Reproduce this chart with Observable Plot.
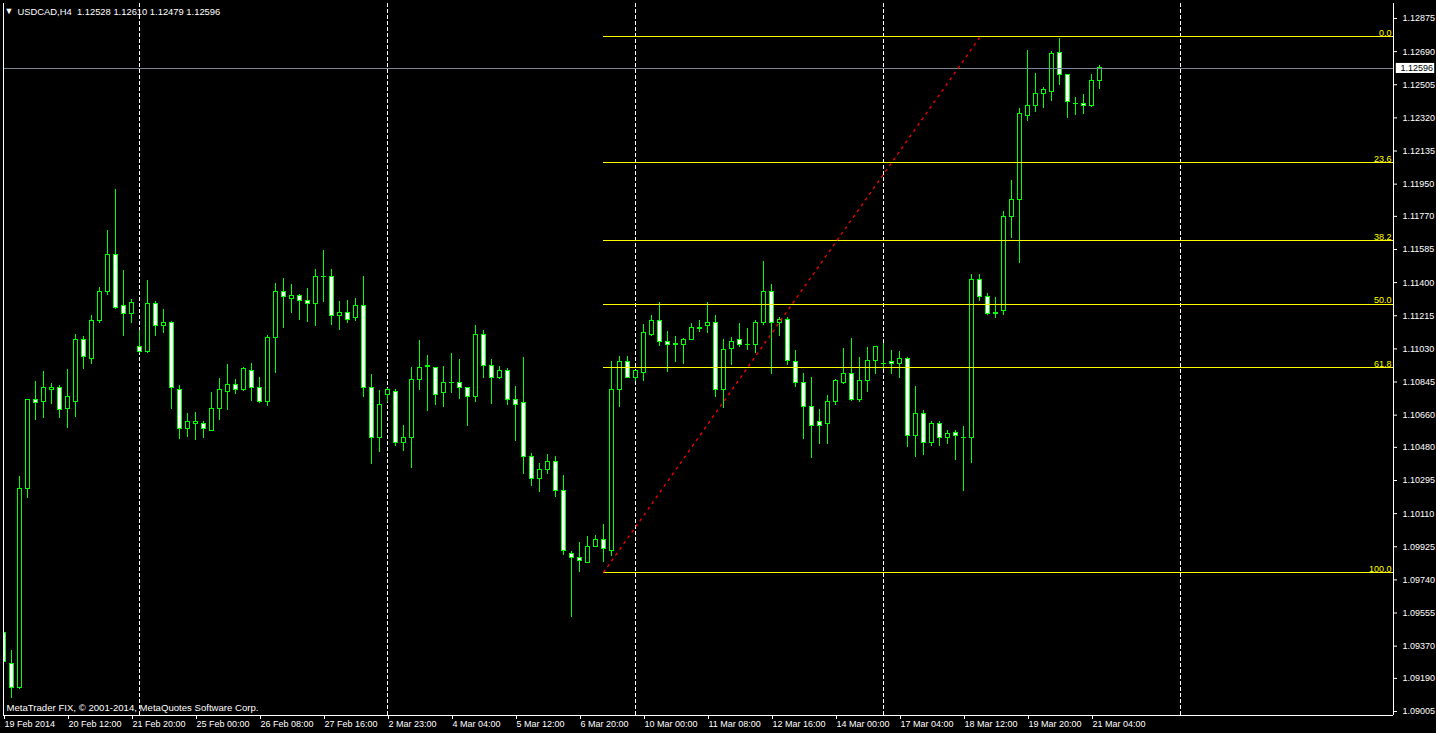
<!DOCTYPE html>
<html><head><meta charset="utf-8">
<script src="https://cdn.jsdelivr.net/npm/d3@7"></script>
<script src="https://cdn.jsdelivr.net/npm/@observablehq/plot@0.6"></script>
<style>html,body{margin:0;padding:0;background:#000;overflow:hidden}#chart svg{display:block}</style>
</head><body><div id="chart"></div>
<script>
// H4 candles, index 0..137 (19 Feb 2014 .. 21 Mar 2014)
const opens = [1.09441,1.09273,1.09139,1.10245,1.10742,1.10731,1.10798,1.10814,1.10692,1.10736,
1.11077,1.10976,1.11188,1.11345,1.11552,1.11272,1.11222,1.11043,1.11010,1.11283,
1.11155,1.11177,1.10803,1.10580,1.10613,1.10613,1.10574,1.10692,1.10792,1.10826,
1.10798,1.10909,1.10814,1.10731,1.11088,1.11345,1.11306,1.11328,1.11300,1.11283,
1.11434,1.11434,1.11211,1.11233,1.11200,1.11272,1.10814,1.10535,1.10770,1.10792,
1.10507,1.10530,1.10859,1.10932,1.10926,1.10781,1.10842,1.10842,1.10814,1.10764,
1.11110,1.10932,1.10870,1.10904,1.10742,1.10725,1.10429,1.10306,1.10351,1.10401,
1.10234,1.09887,1.09865,1.09837,1.09926,1.09965,1.09904,1.10803,1.10954,1.10870,
1.10893,1.11110,1.11188,1.11071,1.11060,1.11054,1.11082,1.11144,1.11155,1.11177,
1.10803,1.11027,1.11077,1.11054,1.11054,1.11172,1.11350,1.11172,1.11194,1.10954,
1.10837,1.10703,1.10619,1.10613,1.10736,1.10842,1.10887,1.10742,1.10853,1.10965,
1.10948,1.10954,1.10943,1.10976,1.10541,1.10669,1.10502,1.10608,1.10535,1.10563,
1.10535,1.10535,1.11412,1.11317,1.11228,1.11239,1.11764,1.11859,1.12333,1.12389,
1.12456,1.12467,1.12680,1.12557,1.12400,1.12400,1.12384,1.12528];
const highs = [1.09446,1.09346,1.10317,1.10747,1.10848,1.10904,1.10837,1.10826,1.10915,1.11110,
1.11099,1.11216,1.11373,1.11691,1.11920,1.11468,1.11306,1.11133,1.11412,1.11295,
1.11250,1.11183,1.10826,1.10669,1.10675,1.10624,1.10786,1.10865,1.10943,1.10859,
1.10926,1.10948,1.10870,1.11105,1.11395,1.11423,1.11390,1.11334,1.11367,1.11473,
1.11579,1.11473,1.11295,1.11300,1.11311,1.11434,1.10887,1.10798,1.10809,1.10803,
1.10602,1.10926,1.11077,1.10993,1.10926,1.10932,1.11004,1.10971,1.10814,1.11161,
1.11133,1.10971,1.10932,1.10920,1.10820,1.10982,1.10446,1.10390,1.10440,1.10429,
1.10323,1.09899,1.09949,1.09982,1.09988,1.10049,1.10960,1.10987,1.10987,1.10909,
1.11166,1.11216,1.11289,1.11127,1.11099,1.11088,1.11172,1.11188,1.11289,1.11216,
1.11082,1.11094,1.11172,1.11144,1.11188,1.11518,1.11390,1.11205,1.11205,1.11021,
1.10893,1.10870,1.10692,1.10770,1.10859,1.11032,1.11088,1.10982,1.11038,1.11040,
1.11060,1.11021,1.11015,1.10982,1.10820,1.10686,1.10624,1.10624,1.10574,1.10574,
1.10597,1.11445,1.11445,1.11339,1.11317,1.11797,1.11970,1.12372,1.12696,1.12568,
1.12490,1.12691,1.12763,1.12560,1.12434,1.12451,1.12562,1.12610];
const lows = [1.09223,1.09078,1.09128,1.10194,1.10630,1.10641,1.10719,1.10641,1.10585,1.10647,
1.10915,1.10943,1.11172,1.11328,1.11250,1.11099,1.11172,1.11004,1.11004,1.11099,
1.11116,1.10692,1.10524,1.10535,1.10518,1.10530,1.10569,1.10630,1.10686,1.10775,
1.10792,1.10736,1.10725,1.10708,1.10893,1.11144,1.11228,1.11188,1.11177,1.11155,
1.11289,1.11161,1.11133,1.11172,1.11183,1.10759,1.10384,1.10451,1.10731,1.10485,
1.10457,1.10362,1.10798,1.10680,1.10714,1.10703,1.10781,1.10747,1.10597,1.10731,
1.10865,1.10719,1.10859,1.10714,1.10513,1.10328,1.10261,1.10228,1.10328,1.10200,
1.09876,1.09530,1.09781,1.09831,1.09921,1.09837,1.09871,1.10703,1.10865,1.10848,
1.10848,1.11099,1.11043,1.10898,1.10954,1.10943,1.11080,1.11122,1.11116,1.10759,
1.10697,1.10937,1.11038,1.11021,1.11004,1.11161,1.10887,1.11099,1.10937,1.10814,
1.10524,1.10418,1.10496,1.10496,1.10714,1.10831,1.10736,1.10731,1.10786,1.10887,
1.10915,1.10887,1.10865,1.10479,1.10423,1.10435,1.10485,1.10485,1.10496,1.10407,
1.10234,1.10390,1.11295,1.11216,1.11200,1.11216,1.11646,1.11507,1.12300,1.12350,
1.12372,1.12411,1.12501,1.12317,1.12333,1.12339,1.12378,1.12479];
const closes = [1.09279,1.09139,1.10245,1.10747,1.10725,1.10809,1.10814,1.10686,1.10759,1.11077,
1.10982,1.11188,1.11350,1.11557,1.11261,1.11222,1.11289,1.11010,1.11283,1.11155,
1.11177,1.10809,1.10585,1.10624,1.10619,1.10580,1.10697,1.10798,1.10826,1.10803,
1.10915,1.10814,1.10731,1.11088,1.11350,1.11317,1.11328,1.11300,1.11283,1.11429,
1.11432,1.11211,1.11233,1.11194,1.11272,1.10814,1.10535,1.10719,1.10803,1.10507,
1.10530,1.10859,1.10926,1.10930,1.10775,1.10837,1.10840,1.10814,1.10764,1.11105,
1.10932,1.10870,1.10904,1.10742,1.10719,1.10429,1.10306,1.10351,1.10401,1.10234,
1.09899,1.09865,1.09843,1.09926,1.09965,1.09910,1.10803,1.10954,1.10870,1.10904,
1.11116,1.11188,1.11071,1.11049,1.11049,1.11082,1.11144,1.11142,1.11177,1.10798,
1.11021,1.11071,1.11049,1.11052,1.11172,1.11350,1.11172,1.11194,1.10960,1.10837,
1.10703,1.10602,1.10602,1.10731,1.10848,1.10887,1.10742,1.10853,1.10965,1.11038,
1.10946,1.10943,1.10976,1.10541,1.10669,1.10502,1.10608,1.10530,1.10557,1.10541,
1.10533,1.11412,1.11317,1.11222,1.11226,1.11769,1.11859,1.12339,1.12389,1.12456,
1.12473,1.12674,1.12557,1.12406,1.12398,1.12384,1.12528,1.12596];

const xTickLabels = ["19 Feb 2014","20 Feb 12:00","21 Feb 20:00","25 Feb 00:00","26 Feb 08:00","27 Feb 16:00",
"2 Mar 23:00","4 Mar 04:00","5 Mar 12:00","6 Mar 20:00","10 Mar 00:00","11 Mar 08:00",
"12 Mar 16:00","14 Mar 00:00","17 Mar 04:00","18 Mar 12:00","19 Mar 20:00","21 Mar 04:00"];
const xTickIndex = [0,8,16,24,32,40,48,56,64,72,80,88,96,104,112,120,128,136];
const yTicks = [1.12875,1.12690,1.12505,1.12320,1.12135,1.11950,1.11770,1.11585,1.11400,1.11215,1.11030,
1.10845,1.10660,1.10480,1.10295,1.10110,1.09925,1.09740,1.09555,1.09370,1.09190,1.09005];
const separators = [17,48,79,110,147.1];
const fibLabels = ["0.0","23.6","38.2","50.0","61.8","100.0"];
const fibPrices = [1.12774,1.12070,1.11633,1.11278,1.10925,1.09781];
const fibStart = 75;
const trendLine = [{x1:75,y1:1.09781,x2:122.1,y2:1.12774}];
const lastPrice = 1.12596;
const headerText = "USDCAD,H4\u00a0\u00a01.12528 1.12610 1.12479 1.12596";
const footerText = "MetaTrader FIX, \u00a9 2001-2014, MetaQuotes Software Corp.";

const candles = opens.map((o,i)=>({i, o, h:highs[i], l:lows[i], c:closes[i]}));
const xLabelMap = new Map(xTickIndex.map((d,k)=>[d,xTickLabels[k]]));

const xDomain = [0, 173.75];
const yDomain = [1.089827, 1.129587];
const green = "#00ff00";
const yellow = "#ffff00";

const chart = Plot.plot({
  width: 1436, height: 733,
  marginLeft: 3, marginRight: 43, marginTop: 3, marginBottom: 18,
  style: {background:"#000", color:"#fff", fontFamily:"'Liberation Sans', Arial, sans-serif", fontSize:"9px"},
  x: {type:"linear", domain: xDomain, axis: null},
  y: {type:"linear", domain: yDomain, axis: null},
  marks: [
    Plot.ruleX(separators, {stroke:"#fff", strokeDasharray:"4,2", shapeRendering:"crispEdges"}),
    Plot.ruleX(candles, {x:"i", y1:"l", y2:"h", stroke:green, clip:true, shapeRendering:"crispEdges"}),
    Plot.rect(candles, {x1:d=>d.i-0.25, x2:d=>d.i+0.25, y1:"o", y2:"c",
      fill:d=>d.c<d.o?"#fff":"#000", stroke:green, clip:true, shapeRendering:"crispEdges"}),
    Plot.ruleY([lastPrice], {stroke:"#7a8896", shapeRendering:"crispEdges"}),
    Plot.ruleY(fibPrices, {x1:fibStart, x2:xDomain[1], stroke:yellow, shapeRendering:"crispEdges"}),
    Plot.text(fibPrices, {y:d=>d, text:(d,i)=>fibLabels[i], frameAnchor:"right", textAnchor:"end",
      lineAnchor:"bottom", dx:-2, dy:-1, fill:yellow, fontSize:9}),
    Plot.link(trendLine, {x1:"x1", y1:"y1", x2:"x2", y2:"y2", stroke:"#ff0000", strokeWidth:1.3, strokeDasharray:"3,4", clip:true}),
    // frame lines
    Plot.ruleX([xDomain[0], xDomain[1]], {stroke:"#fff", shapeRendering:"crispEdges"}),
    Plot.ruleY([yDomain[0]], {stroke:"#fff", shapeRendering:"crispEdges"}),
    // axes
    Plot.axisY(yTicks, {anchor:"right", tickSize:3, tickPadding:6, tickFormat:d=>d.toFixed(5),
      stroke:"#fff", fill:"#fff", fontSize:9}),
    Plot.axisX(xTickIndex, {anchor:"bottom", tickSize:4, tickPadding:1, tickFormat:d=>xLabelMap.get(d),
      textAnchor:"start", dx:1, stroke:"#fff", fill:"#fff", fontSize:9}),
    // current price tag
    Plot.rect([lastPrice], {x1:174.1, x2:178.9, y1:d=>d-0.00028, y2:d=>d+0.00028, fill:"#fff"}),
    Plot.text([lastPrice], {y:d=>d, text:d=>d.toFixed(5), frameAnchor:"right", textAnchor:"start",
      dx:7, fill:"#000", fontSize:9}),
    // header and footer
    Plot.text(["\u25BC"], {frameAnchor:"top-left", textAnchor:"start", lineAnchor:"middle", dx:1, dy:8, fill:"#fff", fontSize:9}),
    Plot.text([headerText], {frameAnchor:"top-left", textAnchor:"start", lineAnchor:"middle", dx:14, dy:8, fill:"#fff", fontSize:9.4}),
    Plot.text([footerText], {frameAnchor:"bottom-left", textAnchor:"start", lineAnchor:"middle", dx:3, dy:-8, fill:"#fff", fontSize:9.6})
  ]
});
document.getElementById("chart").appendChild(chart);
</script>
</body></html>
